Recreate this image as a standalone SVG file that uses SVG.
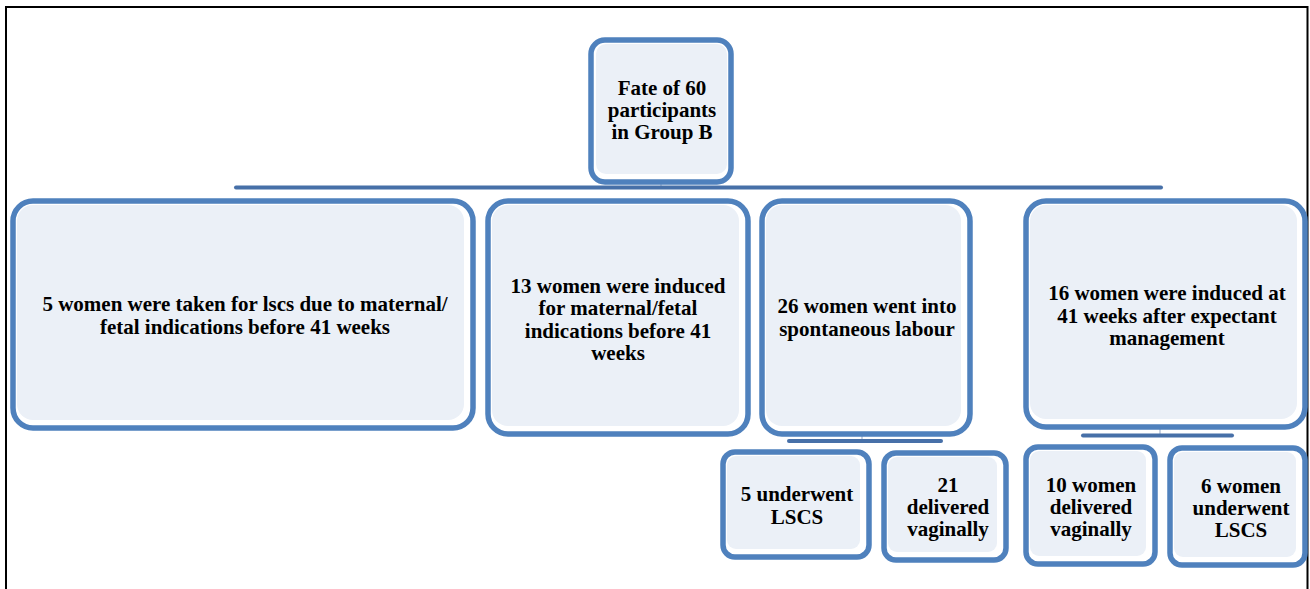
<svg xmlns="http://www.w3.org/2000/svg" width="1310" height="589" viewBox="0 0 1310 589">
<style>
.frame{fill:none;stroke:#000;stroke-width:2}
.box{fill:#fff;stroke:#4f81bd;stroke-width:5.5}
.fill{fill:#ebf0f7}
.bar{stroke:#4770a8;stroke-width:4;stroke-linecap:round;fill:none}
.stem{stroke:#c9d3e3;stroke-width:2;fill:none}
.t{font-family:'Liberation Serif','Times New Roman',serif;font-weight:bold;font-size:21px;fill:#000;text-anchor:middle}
</style>
<rect width="1310" height="589" fill="#fff"/>
<path class="frame" d="M6 589 V7 H1307.5 V589"/>
<g id="connectors">
<line class="stem" x1="661" y1="182" x2="661" y2="187"/>
<line class="bar" x1="236" y1="187.5" x2="1161" y2="187.5"/>
<line class="stem" x1="862" y1="434" x2="862" y2="440"/>
<line class="bar" x1="789" y1="441" x2="941" y2="441"/>
<line class="stem" x1="1160" y1="428" x2="1160" y2="434"/>
<line class="bar" x1="1083" y1="435.5" x2="1232" y2="435.5"/>
</g>
<g id="node-root">
<rect class="box" x="591" y="40" width="140" height="142" rx="14"/>
<rect class="fill" x="596" y="44" width="131" height="130" rx="10"/>
<text class="t" x="662" y="95">Fate of 60</text>
<text class="t" x="662" y="117">participants</text>
<text class="t" x="662" y="139">in Group B</text>
</g>
<g id="node-lscs5">
<rect class="box" x="13" y="201" width="460" height="227" rx="20"/>
<rect class="fill" x="17" y="205" width="447" height="215" rx="16"/>
<text class="t" x="245" y="311">5 women were taken for lscs due to maternal/</text>
<text class="t" x="245" y="334">fetal indications before 41 weeks</text>
</g>
<g id="node-induced13">
<rect class="box" x="488" y="201" width="260" height="233" rx="20"/>
<rect class="fill" x="492" y="205" width="247" height="221" rx="16"/>
<text class="t" x="618" y="293">13 women were induced</text>
<text class="t" x="618" y="315">for maternal/fetal</text>
<text class="t" x="618" y="338">indications before 41</text>
<text class="t" x="618" y="360">weeks</text>
</g>
<g id="node-spont26">
<rect class="box" x="762" y="201" width="208" height="233" rx="20"/>
<rect class="fill" x="766" y="205" width="195" height="221" rx="16"/>
<text class="t" x="867" y="313">26 women went into</text>
<text class="t" x="867" y="336">spontaneous labour</text>
</g>
<g id="node-induced16">
<rect class="box" x="1026" y="201" width="279" height="226" rx="20"/>
<rect class="fill" x="1030" y="205" width="267" height="214" rx="16"/>
<text class="t" x="1167" y="300">16 women were induced at</text>
<text class="t" x="1167" y="323">41 weeks after expectant</text>
<text class="t" x="1167" y="345">management</text>
</g>
<g id="node-lscs5b">
<rect class="box" x="723" y="452" width="146" height="105" rx="12"/>
<rect class="fill" x="727" y="456" width="133" height="93" rx="9"/>
<text class="t" x="797" y="501">5 underwent</text>
<text class="t" x="797" y="524">LSCS</text>
</g>
<g id="node-vag21">
<rect class="box" x="884" y="453" width="122" height="107" rx="12"/>
<rect class="fill" x="888" y="457" width="109" height="95" rx="9"/>
<text class="t" x="948" y="492">21</text>
<text class="t" x="948" y="514">delivered</text>
<text class="t" x="948" y="536">vaginally</text>
</g>
<g id="node-vag10">
<rect class="box" x="1026" y="447" width="129" height="117" rx="12"/>
<rect class="fill" x="1030" y="451" width="116" height="105" rx="9"/>
<text class="t" x="1091" y="492">10 women</text>
<text class="t" x="1091" y="514">delivered</text>
<text class="t" x="1091" y="536">vaginally</text>
</g>
<g id="node-lscs6">
<rect class="box" x="1170" y="448" width="135" height="117" rx="12"/>
<rect class="fill" x="1174" y="452" width="122" height="105" rx="9"/>
<text class="t" x="1241" y="493">6 women</text>
<text class="t" x="1241" y="515">underwent</text>
<text class="t" x="1241" y="537">LSCS</text>
</g>
</svg>
